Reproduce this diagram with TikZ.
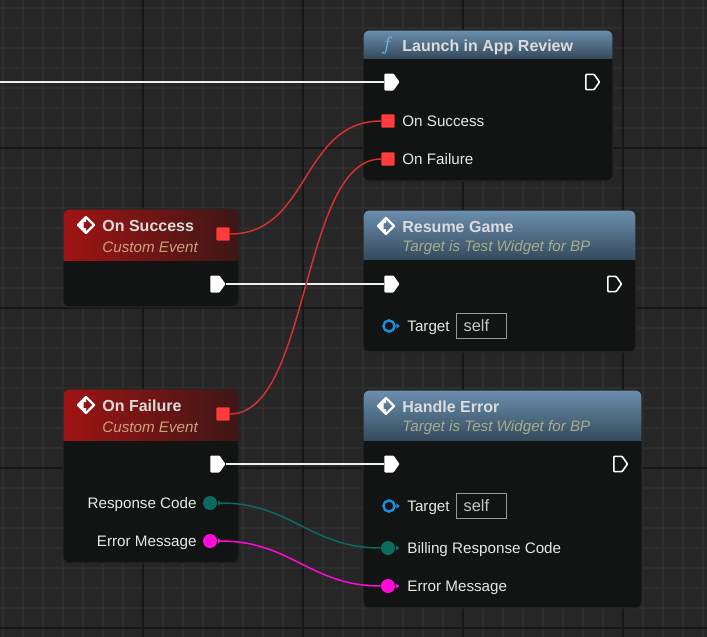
\documentclass[tikz,border=0pt]{standalone}
\usepackage{fontspec}
\setmainfont{Liberation Sans}
\usetikzlibrary{shapes.symbols}
\definecolor{bg}{HTML}{262626}
\definecolor{gridminor}{HTML}{2E2E2E}
\definecolor{gridmajor}{HTML}{161616}
\definecolor{bodybg}{HTML}{121413}
\definecolor{hdrbluetop}{HTML}{6B8FAE}
\definecolor{hdrbluebot}{HTML}{354B5D}
\definecolor{hdrredl}{HTML}{A01414}
\definecolor{hdrredr}{HTML}{3E1616}
\definecolor{titletext}{HTML}{DCDCDC}
\definecolor{subblue}{HTML}{A6AD8C}
\definecolor{subred}{HTML}{C9A27E}
\definecolor{lbltext}{HTML}{E8E8E8}
\definecolor{pinred}{HTML}{FF3B3B}
\definecolor{wirered}{HTML}{D53030}
\definecolor{pinteal}{HTML}{0C6A5E}
\definecolor{pinmagenta}{HTML}{FF0AD8}
\definecolor{pinblue}{HTML}{1B8FDE}
\definecolor{selfgray}{HTML}{9A9A9A}
\definecolor{ficon}{HTML}{6FB7F0}
\tikzset{
  hdrblue/.style={top color=hdrbluetop, bottom color=hdrbluebot},
  hdrred/.style={left color=hdrredl, right color=hdrredr},
  execpin/.style={shape=signal, signal to=east, signal pointer angle=110, fill=white, inner sep=0pt, minimum width=7.5pt, minimum height=8.5pt, rounded corners=0.4pt},
  execout/.style={execpin, fill=none, draw=white, line width=0.8pt, minimum width=6.8pt, minimum height=7.6pt},
  sqpin/.style={rectangle, fill=pinred, inner sep=0pt, minimum size=6.6pt, rounded corners=0.4pt},
  datapin/.style={circle, fill=#1, inner sep=0pt, minimum size=7pt},
  refpin/.style={circle, draw=pinblue, line width=1.2pt, inner sep=0pt, minimum size=5.6pt},
  title/.style={anchor=base west, inner sep=0pt, text=titletext, font=\bfseries\fontsize{8}{10}\selectfont},
  subtitle/.style={anchor=base west, inner sep=0pt, text=#1, font=\itshape\fontsize{7.6}{9}\selectfont},
  lbl/.style={anchor=base west, inner sep=0pt, text=lbltext, font=\fontsize{7.6}{9}\selectfont},
  selfbox/.style={anchor=west, draw=selfgray, line width=0.6pt, text=lbltext!85!black, font=\fontsize{8.2}{9}\selectfont, text width=18pt, inner xsep=3.5pt, minimum height=12pt, align=left},
  execwire/.style={draw=white!94!black, line width=1.4pt},
  datawire/.style={draw=#1, line width=0.75pt}
}
\begin{document}
\begin{tikzpicture}[x=0.5pt, y=-0.5pt]
        \fill[bg] (0,0) rectangle (707,637);
        \useasboundingbox (0,0) rectangle (707,637);
        \foreach \x in {3,23,...,703} \draw[gridminor, line width=0.6pt] (\x,0) -- (\x,637);
        \foreach \y in {8,28,...,628} \draw[gridminor, line width=0.6pt] (0,\y) -- (707,\y);
        \foreach \x in {143,303,463,623} \draw[gridmajor, line width=0.8pt] (\x,0) -- (\x,637);
        \foreach \y in {148,308,468,628} \draw[gridmajor, line width=0.8pt] (0,\y) -- (707,\y);
        \foreach \xa/\ya/\xb/\yb/\yh/\hc in {363/30/613/181/58/hdrblue, 63/209/239/307/260/hdrred, 363/210/636/352/259/hdrblue, 63/389/239/563/440/hdrred, 363/390/642/608/440/hdrblue}{
          \fill[bodybg, rounded corners=3pt] (\xa,\ya) rectangle (\xb,\yb);
          \begin{scope}
            \clip[rounded corners=3pt] (\xa,\ya) rectangle (\xb,\yb);
            \shade[\hc] (\xa,\ya) rectangle (\xb,\yh);
          \end{scope}
          \draw[black!85, line width=0.6pt, rounded corners=3pt] (\xa,\ya) rectangle (\xb,\yb);
        }
        \foreach \x/\y in {86/225,386/226,86/405,386/406}{
          \begin{scope}[shift={(\x,\y)}]
            \draw[white, line width=1.1pt, line join=round] (-8,0) -- (0,-8) -- (8,0) -- (0,8) -- cycle;
            \fill[white] (-8,0) -- (0,-8) -- (0,-3) -- (-2.5,-3) -- (-2.5,3) -- (0,3) -- (0,8) -- cycle;
          \end{scope}
        }
        \node[text=ficon, inner sep=0pt, font=\fontsize{10}{10}\selectfont] (i0) at (387,45) {$f$};
        \node[title] (t0) at (402,51) {Launch in App Review};
        \node[title] (t1) at (102,231) {On Success};
        \node[subtitle=subred] (t2) at (102,252) {Custom Event};
        \node[title] (t3) at (402,232) {Resume Game};
        \node[subtitle=subblue] (t4) at (402,251) {Target is Test Widget for BP};
        \node[title] (t5) at (102,411) {On Failure};
        \node[subtitle=subred] (t6) at (102,432) {Custom Event};
        \node[title] (t7) at (402,412) {Handle Error};
        \node[subtitle=subblue] (t8) at (402,431) {Target is Test Widget for BP};
        \coordinate (c0) at (0,82);
        \node[execpin] (v0) at (389,82) {};
        \node[execout] (v1) at (590,82) {};
        \node[sqpin] (v2) at (388,121) {};
        \node[sqpin] (v3) at (388,159) {};
        \node[lbl] (l0) at (402,126.5) {On Success};
        \node[lbl] (l1) at (402,164.5) {On Failure};
        \node[sqpin] (v4) at (223,234) {};
        \node[execpin] (v5) at (215,284) {};
        \node[execpin] (v6) at (389,284) {};
        \node[execout] (v7) at (612,284) {};
        \node[refpin] (v8) at (389,326) {};
        \node[lbl] (l2) at (407,331.5) {Target};
        \node[selfbox] (s0) at (456,326) {self};
        \node[sqpin] (v9) at (223,414) {};
        \node[execpin] (v10) at (215,464) {};
        \node[datapin=pinteal] (v11) at (210,503) {};
        \node[datapin=pinmagenta] (v12) at (210,541) {};
        \node[lbl, anchor=base east] (l3) at (197,508.5) {Response Code};
        \node[lbl, anchor=base east] (l4) at (197,546.5) {Error Message};
        \node[execpin] (v13) at (389,464) {};
        \node[execout] (v14) at (618,464) {};
        \node[refpin] (v15) at (389,506) {};
        \node[lbl] (l5) at (407,511.5) {Target};
        \node[selfbox] (s1) at (456,506) {self};
        \node[datapin=pinteal] (v16) at (388,548) {};
        \node[datapin=pinmagenta] (v17) at (388,586) {};
        \node[lbl] (l6) at (407,553.5) {Billing Response Code};
        \node[lbl] (l7) at (407,591.5) {Error Message};
        \foreach \p/\c in {v8/pinblue, v15/pinblue, v11/pinteal, v12/pinmagenta, v16/pinteal, v17/pinmagenta}
          \fill[\c] ([xshift=0.3pt]\p.east) ++(0,-2.6) -- ++(3.4,2.6) -- ++(-3.4,2.6) -- cycle;
        \draw[execwire] (c0) -- (v0.west);
        \draw[execwire] (v5.east) -- (v6.west);
        \draw[execwire] (v10.east) -- (v13.west);
        \draw[datawire=wirered] (v4.east) .. controls +(80,0) and +(-80,0) .. (v2.west);
        \draw[datawire=wirered] (v9.east) .. controls +(80,0) and +(-80,0) .. (v3.west);
        \draw[datawire=pinteal] ([xshift=1.7pt]v11.east) .. controls +(70,0) and +(-70,0) .. (v16.west);
        \draw[datawire=pinmagenta] ([xshift=1.7pt]v12.east) .. controls +(70,0) and +(-70,0) .. (v17.west);
        \end{tikzpicture}
\end{document}
